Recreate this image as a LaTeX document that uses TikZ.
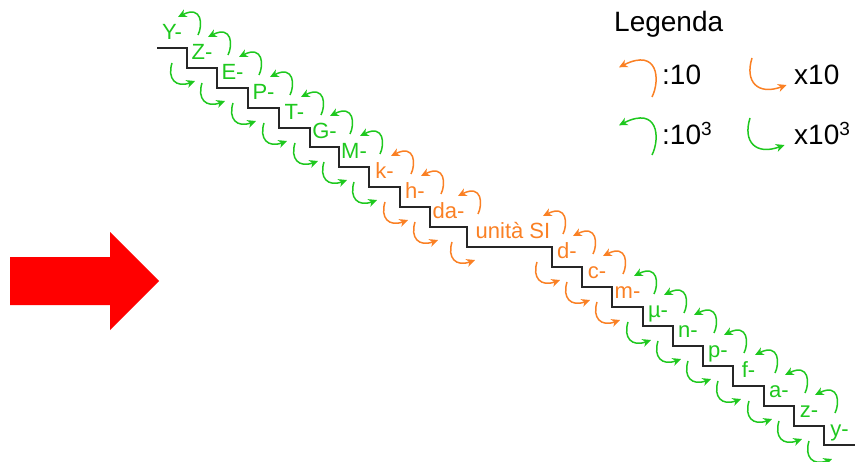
\documentclass[tikz,border=0pt]{standalone}
\usepackage{fontspec}
\setmainfont{Liberation Sans}
\usetikzlibrary{arrows.meta}
\definecolor{pgreen}{RGB}{30,200,30}
\definecolor{porange}{RGB}{250,128,36}
\begin{document}
\begin{tikzpicture}[x=1pt,y=-1pt,
  stair/.style={draw=black!85, line width=1.8pt, line join=miter},
  prefixlbl/.style={anchor=base, inner sep=0pt, font=\fontsize{22}{26}\selectfont},
  legendtxt/.style={anchor=base west, inner sep=0pt, font=\fontsize{28}{34}\selectfont},
  curved/.style={line width=1.5pt, -{Stealth[length=8.5pt,width=8pt,inset=2.5pt]}},
  divarrow/.pic={\draw[curved] (0,0) .. controls (5,-10) and (4,-30) .. (-20,-18);},
  mularrow/.pic={\draw[curved] (0,0) .. controls (-5,16) and (4,25) .. (23,18);}
]
\useasboundingbox (0,0) rectangle (858,462);

% big red arrow on the left
\fill[red] (10,257) -- (110,257) -- (110,232) -- (159,281) -- (110,330)
  -- (110,305) -- (10,305) -- cycle;

% the staircase
\draw[stair] (157,48) -| (187,68) -| (217,88) -| (248,108) -| (279,128)
  -| (310,147) -| (339,167) -| (369,187) -| (400,207) -| (430,227)
  -| (467,247) -| (552,267) -| (582,287) -| (612,307) -| (643,326)
  -| (673,346) -| (703,366) -| (733,386) -| (764,406) -| (794,426)
  -| (824,445) -- (855,445);

% conversion arrows at every riser: up (divide) and down (multiply)
\foreach \x/\y/\c in {187/48/pgreen, 217/68/pgreen, 248/88/pgreen,
    279/108/pgreen, 310/128/pgreen, 339/147/pgreen, 369/167/pgreen,
    400/187/porange, 430/207/porange, 467/227/porange,
    552/247/porange, 582/267/porange, 612/287/porange,
    643/307/pgreen, 673/326/pgreen, 703/346/pgreen, 733/366/pgreen,
    764/386/pgreen, 794/406/pgreen, 824/426/pgreen}{
  \pic[color=\c] at (\x+11,\y-13) {divarrow};
  \pic[color=\c] at (\x-15,\y+15) {mularrow};
}

% prefixes on the treads
\foreach \t/\x/\y/\c [count=\i] in {Y-/172/48/pgreen, Z-/202/68/pgreen,
    E-/232.5/88/pgreen, P-/263.5/108/pgreen, T-/294.5/128/pgreen,
    G-/324.5/147/pgreen, M-/354/167/pgreen, k-/384.5/187/porange,
    h-/415/207/porange, da-/448.5/227/porange, unità SI/513/247/porange,
    d-/567/267/porange, c-/597/287/porange, m-/627.5/307/porange,
    µ-/658/326/pgreen, n-/688/346/pgreen, p-/718/366/pgreen,
    f-/748.5/386/pgreen, a-/779/406/pgreen, z-/809/426/pgreen,
    y-/839.5/445/pgreen}{
  \node[prefixlbl, text=\c] (pref\i) at (\x,\y-8.5) {\t};
}

% legend
\node[legendtxt] (legtitle) at (614,32) {Legenda};
\pic[color=porange, scale=1.65] at (652,97) {divarrow};
\node[legendtxt] (legdiv) at (662,85) {:10};
\pic[color=porange, scale=1.5] at (752,58) {mularrow};
\node[legendtxt] (legmul) at (794,85) {x10};
\pic[color=pgreen, scale=1.65] at (652,155) {divarrow};
\node[legendtxt] (legdivk) at (662,145) {:10\raisebox{9pt}{\fontsize{19}{19}\selectfont 3}};
\pic[color=pgreen, scale=1.5] at (750,118) {mularrow};
\node[legendtxt] (legmulk) at (794,145) {x10\raisebox{9pt}{\fontsize{19}{19}\selectfont 3}};
\end{tikzpicture}
\end{document}
